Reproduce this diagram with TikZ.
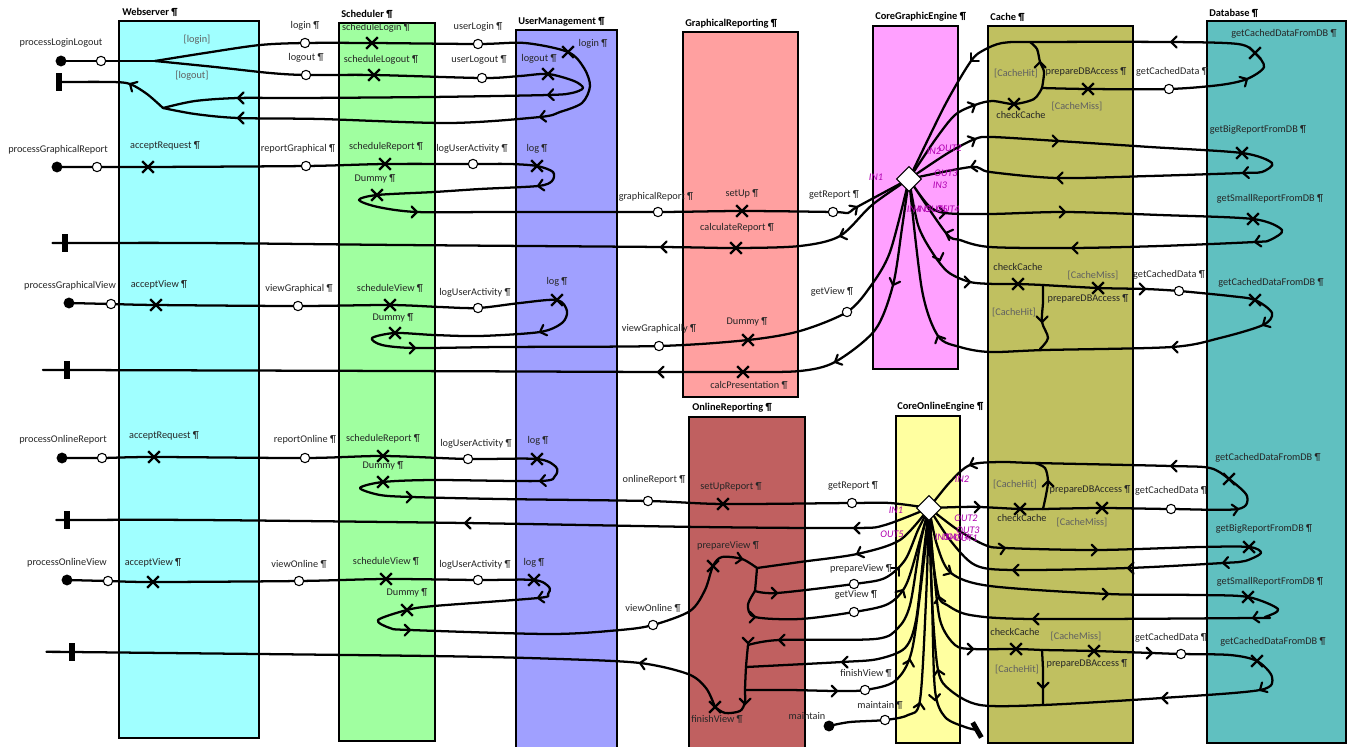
\documentclass[tikz,border=0pt]{standalone}
\usepackage{fontspec}
\setmainfont{Carlito}
\usetikzlibrary{shapes.misc,shapes.geometric}
\pgfdeclarelayer{bg}
\pgfdeclarelayer{fg}
\pgfsetlayers{bg,main,fg}
\definecolor{cWeb}{HTML}{A0FFFF}
\definecolor{cSch}{HTML}{A0FFA0}
\definecolor{cUsr}{HTML}{A0A0FF}
\definecolor{cGrp}{HTML}{FFA0A0}
\definecolor{cOnl}{HTML}{C06060}
\definecolor{cCge}{HTML}{FFA0FF}
\definecolor{cCoe}{HTML}{FFFFA0}
\definecolor{cCch}{HTML}{C0C060}
\definecolor{cDb}{HTML}{60C0C0}
\definecolor{cPort}{HTML}{B000B0}
\definecolor{cGuard}{HTML}{606060}
\tikzset{
  comp/.style={draw=black,line width=1.5pt},
  ttl/.style={font=\fontsize{7.8}{9}\selectfont\bfseries,inner sep=0pt,anchor=west},
  lbl/.style={font=\fontsize{7.7}{9}\selectfont,inner sep=0pt,anchor=center,text=black!85},
  grd/.style={lbl,text=cGuard},
  prt/.style={font=\fontsize{7.6}{9}\selectfont\itshape,inner sep=0pt,anchor=center,text=cPort},
  resp/.style={cross out,draw=black,line width=1.8pt,minimum size=7pt,inner sep=0pt},
  empt/.style={circle,draw=black,fill=white,line width=0.8pt,minimum size=7pt,inner sep=0pt},
  strt/.style={circle,fill=black,minimum size=8.2pt,inner sep=0pt},
  endb/.style={rectangle,fill=black,minimum width=3.8pt,minimum height=13pt,inner sep=0pt},
  stub/.style={diamond,draw=black,fill=white,line width=0.8pt,minimum size=19pt,inner sep=0pt},
  ucm/.style={draw=black,line width=1.7pt,line join=round,line cap=round},
  arw/.pic={\draw[line width=1.6pt,line cap=round,line join=miter] (-5.5,-5.5) -- (0,0) -- (-5.5,5.5);},
}
\newcommand\uSP[4]{\node[strt] (#1) at (#2) {}; \node[lbl] (#1-l) at (#3) {#4};}
\newcommand\uEP[4]{\node[empt] (#1) at (#2) {}; \node[lbl] (#1-l) at (#3) {#4};}
\newcommand\uRX[4]{\node[resp] (#1) at (#2) {}; \node[lbl] (#1-l) at (#3) {#4};}
\newcommand\uGL[3]{\node[grd] (#1) at (#2) {#3};}
\newcommand\uPL[3]{\node[prt] (#1) at (#2) {#3};}
\newcommand\uEB[3]{\node[endb,rotate=#3] (#1) at (#2) {};}
\newcommand\uAR[3]{\path (#1,#2) pic[rotate=#3] {arw};}
\begin{document}
\begin{tikzpicture}[x=0.75pt,y=-0.75pt]
\useasboundingbox (0,0) rectangle (1349,746);
\begin{pgfonlayer}{bg}
\fill[white] (0,0) rectangle (1349,746);
\draw[comp,fill=cWeb] (119,21) rectangle (259,738);
\draw[comp,fill=cSch] (339,23) rectangle (435,741);
\draw[comp,fill=cUsr] (516,30) rectangle (617,752);
\draw[comp,fill=cGrp] (683,32) rectangle (798,397);
\draw[comp,fill=cOnl] (689,417) rectangle (805,752);
\draw[comp,fill=cCge] (873,26) rectangle (958,369);
\draw[comp,fill=cCoe] (896,416) rectangle (960,743);
\draw[comp,fill=cCch] (988,26) rectangle (1133,743);
\draw[comp,fill=cDb] (1207,21) rectangle (1346,743);
\node[ttl] (t1) at (122,12) {Webserver ¶};
\node[ttl] (t2) at (341,14) {Scheduler ¶};
\node[ttl] (t3) at (518,22) {UserManagement ¶};
\node[ttl] (t4) at (685,24) {GraphicalReporting ¶};
\node[ttl] (t5) at (875,17) {CoreGraphicEngine ¶};
\node[ttl] (t6) at (990,17) {Cache ¶};
\node[ttl] (t7) at (1209,13) {Database ¶};
\node[ttl] (t8) at (692,408) {OnlineReporting ¶};
\node[ttl] (t9) at (897,407) {CoreOnlineEngine ¶};
\end{pgfonlayer}

\begin{pgfonlayer}{fg}
% start points
\uSP{s1}{61,61}{61,43}{processLoginLogout}
\uSP{s2}{57,167}{58,150}{processGraphicalReport}
\uSP{s3}{69,303}{70,286}{processGraphicalView}
\uSP{s4}{62,458}{63,440}{processOnlineReport}
\uSP{s5}{67,580}{67,563}{processOnlineView}
\uSP{sM}{829,726}{807,716}{maintain}
% end points
\uEB{e1}{59,82}{0}
\uEB{e2}{65,243}{0}
\uEB{e3}{67,370}{0}
\uEB{e4}{67,520}{0}
\uEB{e5}{72,652}{0}
\uEB{eM}{977,730}{30}
% stubs
\node[stub] (D1) at (909,179) {};
\node[stub] (D2) at (929,508) {};
% empty points
\node[empt] (c1a) at (101,61) {};
\node[empt] (c2a) at (97,167) {};
\node[empt] (c3a) at (111,304) {};
\node[empt] (c4a) at (102,458) {};
\node[empt] (c5a) at (108,581) {};
\uEP{c1li}{305,43}{305,26}{login ¶}
\uEP{c1lo}{306,75}{306,58}{logout ¶}
\uEP{c1ul}{478,44}{478,27}{userLogin ¶}
\uEP{c1uo}{482,78}{479,60}{userLogout ¶}
\uEP{c2rg}{306,166}{298,149}{reportGraphical ¶}
\uEP{c2lu}{473,164}{472,149}{logUserActivity ¶}
\uEP{c2gr}{658,212}{656,197}{graphicalReport ¶}
\uEP{c2gt}{833,212}{834,195}{getReport ¶}
\uEP{c3vg}{298,306}{299,289}{viewGraphical ¶}
\uEP{c3lu}{478,308}{475,293}{logUserActivity ¶}
\uEP{c3vy}{659,346}{659,329}{viewGraphically ¶}
\uEP{c3gv}{847,312}{832,292}{getView ¶}
\uEP{c4ro}{305,458}{305,440}{reportOnline ¶}
\uEP{c4lu}{468,459}{476,444}{logUserActivity ¶}
\uEP{c4or}{648,501}{654,480}{onlineReport ¶}
\uEP{c4gr}{852,503}{853,486}{getReport ¶}
\uEP{c5vo}{299,581}{299,564}{viewOnline ¶}
\uEP{c5lu}{478,580}{475,565}{logUserActivity ¶}
\uEP{c5vw}{653,625}{653,608}{viewOnline ¶}
\uEP{c5pv}{854,584}{861,569}{prepareView ¶}
\uEP{c5gv}{854,612}{856,595}{getView ¶}
\uEP{c5fv}{865,690}{866,673}{finishView ¶}
\uEP{cM}{885,720}{880,705}{maintain ¶}
\uEP{g1}{1169,89}{1172,72}{getCachedData ¶}
\uEP{g2}{1179,291}{1169,275}{getCachedData ¶}
\uEP{o1}{1171,509}{1171,491}{getCachedData ¶}
\uEP{o2}{1181,654}{1171,638}{getCachedData ¶}
% responsibilities
\uRX{x1sl}{372,43}{376,28}{scheduleLogin ¶}
\uRX{x1so}{374,75}{381,60}{scheduleLogout ¶}
\uRX{x1li}{568,52}{593,44}{login ¶}
\uRX{x1lo}{548,74}{539,59}{logout ¶}
\uRX{x2ar}{148,167}{165,146}{acceptRequest ¶}
\uRX{x2sr}{385,164}{386,147}{scheduleReport ¶}
\uRX{x2lg}{537,166}{537,149}{log ¶}
\uRX{x2dm}{377,195}{375,179}{Dummy ¶}
\uRX{x2su}{742,211}{742,194}{setUp ¶}
\uRX{x2cr}{736,248}{737,228}{calculateReport ¶}
\uRX{x3av}{156,305}{159,285}{acceptView ¶}
\uRX{x3sv}{390,305}{390,288}{scheduleView ¶}
\uRX{x3lg}{557,300}{557,282}{log ¶}
\uRX{x3dm}{395,333}{393,318}{Dummy ¶}
\uRX{x3dm2}{748,340}{747,322}{Dummy ¶}
\uRX{x3cp}{743,372}{749,385}{calcPresentation ¶}
\uRX{x4ar}{154,457}{164,436}{acceptRequest ¶}
\uRX{x4sr}{383,456}{383,439}{scheduleReport ¶}
\uRX{x4lg}{537,459}{538,441}{log ¶}
\uRX{x4dm}{383,482}{383,466}{Dummy ¶}
\uRX{x4su}{723,504}{731,487}{setUpReport ¶}
\uRX{x5av}{153,582}{153,563}{acceptView ¶}
\uRX{x5sv}{386,579}{386,561}{scheduleView ¶}
\uRX{x5lg}{534,580}{534,563}{log ¶}
\uRX{x5dm}{407,610}{407,593}{Dummy ¶}
\uRX{x5pv}{713,566}{728,546}{prepareView ¶}
\uRX{x5fv}{715,707}{717,719}{finishView ¶}
\uRX{xgc1}{1014,104}{1021,115}{checkCache}
\uRX{xgp1}{1088,89}{1086,72}{prepareDBAccess ¶}
\uRX{xgd1}{1255,53}{1284,34}{getCachedDataFromDB ¶}
\uRX{xgb}{1242,153}{1258,130}{getBigReportFromDB ¶}
\uRX{xgs}{1253,219}{1270,199}{getSmallReportFromDB ¶}
\uRX{xgc2}{1018,284}{1018,267}{checkCache}
\uRX{xgp2}{1098,288}{1088,299}{prepareDBAccess ¶}
\uRX{xgd2}{1255,300}{1271,283}{getCachedDataFromDB ¶}
\uRX{xoc1}{1020,509}{1022,518}{checkCache}
\uRX{xop1}{1102,508}{1090,490}{prepareDBAccess ¶}
\uRX{xod1}{1229,479}{1268,458}{getCachedDataFromDB ¶}
\uRX{xob}{1249,547}{1264,529}{getBigReportFromDB ¶}
\uRX{xos}{1248,597}{1270,582}{getSmallReportFromDB ¶}
\uRX{xoc2}{1016,649}{1015,632}{checkCache}
\uRX{xop2}{1094,651}{1087,664}{prepareDBAccess ¶}
\uRX{xod2}{1257,661}{1273,642}{getCachedDataFromDB ¶}
% guards
\uGL{gA}{197,40}{[login]}
\uGL{gB}{192,76}{[logout]}
\uGL{gC}{1016,73}{[CacheHit]}
\uGL{gD}{1077,106}{[CacheMiss]}
\uGL{gE}{1093,275}{[CacheMiss]}
\uGL{gF}{1014,312}{[CacheHit]}
\uGL{gG}{1015,484}{[CacheHit]}
\uGL{gH}{1082,522}{[CacheMiss]}
\uGL{gI}{1076,636}{[CacheMiss]}
\uGL{gJ}{1017,669}{[CacheHit]}
% ports
\uPL{pA1}{876,177}{IN1}
\uPL{pA2}{934,151}{IN2}
\uPL{pA3}{950,148}{OUT2}
\uPL{pA4}{946,173}{OUT3}
\uPL{pA5}{940,185}{IN3}
\uPL{pA6}{914,209}{IN4}
\uPL{pA7}{924,209}{IN5}
\uPL{pA8}{936,209}{OUT5}
\uPL{pA9}{948,209}{OUT4}
\uPL{pB1}{896,510}{IN1}
\uPL{pB2}{962,479}{IN2}
\uPL{pB3}{966,518}{OUT2}
\uPL{pB4}{892,534}{OUT5}
\uPL{pB5}{968,530}{OUT3}
\uPL{pB6}{942,537}{IN3}
\uPL{pB7}{950,537}{IN4}
\uPL{pB8}{958,537}{OUT4}
\uPL{pB9}{966,538}{OUT1}
\end{pgfonlayer}

% named junctions
\coordinate (f1) at (155,61);
\coordinate (m1) at (163,108);
\coordinate (j1) at (757,568);
\coordinate (j2) at (755,591);
\coordinate (j3) at (748,645);
\coordinate (j4) at (746,667);
\coordinate (j5) at (745,690);
\coordinate (bg1) at (1042,88);
\coordinate (tg1) at (1030,42);
\coordinate (bg2) at (1043,285);
\coordinate (bo1) at (1043,509);
\coordinate (to1) at (1035,463);
\coordinate (bo2) at (1042,650);

% ---- processLoginLogout
\draw[ucm] plot[smooth,tension=.5] coordinates {(s1.center) (c1a.center) (f1)};
\draw[ucm] plot[smooth,tension=.5] coordinates {(f1) (205,53) (260,45) (c1li.center) (x1sl.center) (c1ul.center) (525,43) (x1li.center) (584,68) (590,86) (582,103) (560,112) (540,117) (450,123) (320,119) (238,118) (195,114) (m1)};
\draw[ucm] plot[smooth,tension=.5] coordinates {(f1) (215,67) (270,73) (c1lo.center) (x1so.center) (c1uo.center) (520,76) (x1lo.center) (574,81) (583,88) (572,93) (548,95) (430,97) (300,98) (238,98) (195,101) (m1)};
\draw[ucm] plot[smooth,tension=.5] coordinates {(m1) (147,94) (130,84) (112,82) (e1.center)};
% ---- processGraphicalReport
\draw[ucm] plot[smooth,tension=.5] coordinates {(s2.center) (c2a.center) (x2ar.center) (c2rg.center) (x2sr.center) (c2lu.center) (510,164) (x2lg.center) (553,172) (552,181) (538,186) (480,189) (434,192) (x2dm.center) (359,200) (378,207) (417,212) (500,212) (c2gr.center) (x2su.center) (c2gt.center) (848,213) (857,207) (D1.center)};
\draw[ucm] plot[smooth,tension=.5] coordinates {(D1.center) (872,205) (840,236) (800,246) (x2cr.center) (661,247) (400,245) (200,243) (e2.center) (55,243)};
% ---- processGraphicalView
\draw[ucm] plot[smooth,tension=.5] coordinates {(s3.center) (c3a.center) (x3av.center) (c3vg.center) (x3sv.center) (440,307) (c3lu.center) (520,303) (x3lg.center) (567,311) (562,323) (540,332) (480,336) (434,335) (x3dm.center) (372,338) (382,345) (415,348) (500,347) (c3vy.center) (x3dm2.center) (800,331) (c3gv.center) (870,287) (890,252) (D1.center)};
\draw[ucm] plot[smooth,tension=.5] coordinates {(D1.center) (902,228) (893,285) (875,330) (835,362) (800,371) (x3cp.center) (658,372) (400,371) (e3.center) (57,370)};
% ---- processOnlineReport
\draw[ucm] plot[smooth,tension=.5] coordinates {(s4.center) (c4a.center) (x4ar.center) (c4ro.center) (x4sr.center) (c4lu.center) (x4lg.center) (556,467) (555,476) (540,481) (434,480) (x4dm.center) (360,488) (380,495) (412,497) (500,499) (c4or.center) (x4su.center) (c4gr.center) (890,503) (D2.center)};
\draw[ucm] plot[smooth,tension=.5] coordinates {(D2.center) (885,525) (854,528) (700,527) (465,523) (200,520) (e4.center) (60,520)};
% ---- processOnlineView
\draw[ucm] plot[smooth,tension=.5] coordinates {(s5.center) (c5a.center) (x5av.center) (c5vo.center) (x5sv.center) (c5lu.center) (x5lg.center) (549,587) (548,594) (538,598) (434,606) (x5dm.center) (378,620) (390,628) (410,630) (550,634) (620,630) (c5vw.center) (690,611) (705,590) (x5pv.center) (722,557) (742,559) (j1)};
\draw[ucm] plot[smooth,tension=.5] coordinates {(D2.center) (900,540) (857,554) (800,562) (j1)};
\draw[ucm] plot[smooth,tension=.5] coordinates {(j1) (756,580) (j2)};
\draw[ucm] plot[smooth,tension=.5] coordinates {(j2) (777,593) (c5pv.center) (885,578) (905,560) (918,530) (D2.center)};
\draw[ucm] plot[smooth,tension=.5] coordinates {(j2) (748,605) (755,617) (800,619) (c5gv.center) (888,604) (906,585) (920,540) (D2.center)};
\draw[ucm] plot[smooth,tension=.5] coordinates {(D2.center) (920,545) (910,605) (898,628) (875,639) (779,640) (j3)};
\draw[ucm] plot[smooth,tension=.5] coordinates {(D2.center) (924,550) (916,620) (905,648) (878,659) (842,662) (j4)};
\draw[ucm] plot[smooth,tension=.5] coordinates {(j3) (j4) (j5) (745,702) (740,711) (725,713) (x5fv.center)};
\draw[ucm] plot[smooth,tension=.5] coordinates {(j5) (790,690) (837,691) (c5fv.center) (895,681) (912,650) (924,560) (D2.center)};
\draw[ucm] plot[smooth,tension=.5] coordinates {(x5fv.center) (706,688) (688,674) (640,663) (560,659) (430,656) (e5.center) (62,652)};
\draw[ucm] plot[smooth,tension=.5] coordinates {(sM.center) (850,722) (cM.center) (908,715) (920,700) (926,600) (D2.center)};
\draw[ucm] plot[smooth,tension=.5] coordinates {(D2.center) (932,600) (935,690) (945,717) (965,727) (eM.center)};
% ---- CoreGraphicEngine <-> Cache / Database
\draw[ucm] plot[smooth,tension=.5] coordinates {(D1.center) (935,140) (955,115) (975,105) (992,101) (xgc1.center) (1034,99) (bg1)};
\draw[ucm] plot[smooth,tension=.5] coordinates {(bg1) (1044,72) (1040,62) (1037,49) (tg1)};
\draw[ucm] plot[smooth,tension=.5] coordinates {(bg1) (xgp1.center) (g1.center) (1220,85) (1247,79) (1264,67) (xgd1.center) (1238,44) (1171,42) (tg1) (1002,43) (984,50) (971,61) (945,105) (D1.center)};
\draw[ucm] plot[smooth,tension=.5] coordinates {(D1.center) (948,153) (975,139) (992,137) (1058,141) (1150,147) (xgb.center) (1272,163) (1262,172) (1243,173) (1150,176) (1057,178) (990,172) (971,167) (D1.center)};
\draw[ucm] plot[smooth,tension=.5] coordinates {(D1.center) (928,205) (945,213) (990,214) (1065,212) (1160,215) (xgs.center) (1282,230) (1270,240) (1255,242) (1160,246) (1072,248) (990,247) (960,240) (946,233) (D1.center)};
\draw[ucm] plot[smooth,tension=.5] coordinates {(D1.center) (918,225) (932,252) (948,272) (970,282) (995,284) (xgc2.center) (bg2)};
\draw[ucm] plot[smooth,tension=.5] coordinates {(bg2) (xgp2.center) (1145,289) (g2.center) (1230,296) (xgd2.center) (1272,313) (1263,325) (1220,338) (1172,347) (1045,350) (990,352) (960,347) (938,336) (922,290) (D1.center)};
\draw[ucm] plot[smooth,tension=.5] coordinates {(bg2) (1043,302) (1042,322) (1048,338) (1040,349)};
% ---- CoreOnlineEngine <-> Cache / Database
\draw[ucm] plot[smooth,tension=.5] coordinates {(D2.center) (960,507) (980,507) (xoc1.center) (bo1)};
\draw[ucm] plot[smooth,tension=.5] coordinates {(bo1) (1046,495) (1048,481) (1045,468) (to1)};
\draw[ucm] plot[smooth,tension=.5] coordinates {(bo1) (xop1.center) (o1.center) (1238,509) (1247,496) (xod1.center) (1210,468) (1171,466) (to1) (1000,462) (970,465) (950,482) (D2.center)};
\draw[ucm] plot[smooth,tension=.5] coordinates {(D2.center) (958,530) (985,545) (1005,548) (1097,550) (1200,547) (xob.center) (1261,553) (1245,561) (1223,563) (1128,568) (1013,570) (975,565) (950,540) (D2.center)};
\draw[ucm] plot[smooth,tension=.5] coordinates {(D2.center) (937,545) (951,573) (990,586) (1108,594) (1200,595) (xos.center) (1278,609) (1265,617) (1253,618) (1033,619) (970,615) (947,605) (939,597) (933,560) (D2.center)};
\draw[ucm] plot[smooth,tension=.5] coordinates {(D2.center) (933,560) (940,620) (955,645) (973,649) (xoc2.center) (bo2)};
\draw[ucm] plot[smooth,tension=.5] coordinates {(bo2) (xop2.center) (1152,653) (o2.center) (1230,655) (xod2.center) (1272,677) (1260,690) (1162,698) (1043,705) (980,705) (950,690) (938,670) (932,600) (D2.center)};
\draw[ucm] plot[smooth,tension=.5] coordinates {(bo2) (1043,670) (1043,688) (1043,705)};

% ---- arrowheads
\uAR{130}{84}{150}
\uAR{238}{98}{180}
\uAR{238}{118}{180}
\uAR{540}{117}{188}
\uAR{548}{95}{183}
\uAR{538}{186}{190}
\uAR{417}{212}{0}
\uAR{857}{207}{35}
\uAR{840}{236}{200}
\uAR{661}{247}{180}
\uAR{540}{332}{200}
\uAR{415}{348}{0}
\uAR{893}{285}{250}
\uAR{835}{362}{205}
\uAR{658}{372}{180}
\uAR{540}{481}{185}
\uAR{412}{497}{0}
\uAR{854}{528}{180}
\uAR{465}{523}{180}
\uAR{538}{598}{190}
\uAR{410}{630}{0}
\uAR{742}{559}{-10}
\uAR{857}{554}{200}
\uAR{777}{593}{0}
\uAR{899}{568}{45}
\uAR{755}{617}{0}
\uAR{903}{590}{60}
\uAR{779}{640}{180}
\uAR{748}{643}{270}
\uAR{842}{662}{180}
\uAR{837}{691}{0}
\uAR{910}{660}{75}
\uAR{745}{704}{270}
\uAR{640}{663}{170}
\uAR{920}{703}{80}
\uAR{935}{700}{275}
\uAR{975}{105}{25}
\uAR{1040}{62}{90}
\uAR{1247}{79}{30}
\uAR{1171}{42}{180}
\uAR{971}{61}{225}
\uAR{975}{139}{25}
\uAR{1058}{141}{0}
\uAR{1243}{173}{185}
\uAR{1057}{178}{180}
\uAR{971}{167}{190}
\uAR{945}{213}{0}
\uAR{1065}{212}{0}
\uAR{1255}{242}{190}
\uAR{1072}{248}{180}
\uAR{946}{233}{160}
\uAR{940}{260}{290}
\uAR{970}{282}{0}
\uAR{1042}{322}{270}
\uAR{1145}{289}{0}
\uAR{1263}{325}{210}
\uAR{1172}{347}{180}
\uAR{938}{336}{115}
\uAR{980}{507}{0}
\uAR{1048}{481}{90}
\uAR{1238}{509}{10}
\uAR{1171}{466}{180}
\uAR{970}{465}{200}
\uAR{1005}{548}{10}
\uAR{1097}{550}{0}
\uAR{1223}{563}{185}
\uAR{1128}{568}{180}
\uAR{1013}{570}{180}
\uAR{951}{573}{330}
\uAR{1108}{594}{0}
\uAR{1253}{618}{190}
\uAR{1033}{619}{180}
\uAR{939}{597}{100}
\uAR{973}{649}{0}
\uAR{1043}{688}{270}
\uAR{1152}{653}{0}
\uAR{1260}{690}{210}
\uAR{1162}{698}{180}
\uAR{938}{670}{100}
\end{tikzpicture}
\end{document}
